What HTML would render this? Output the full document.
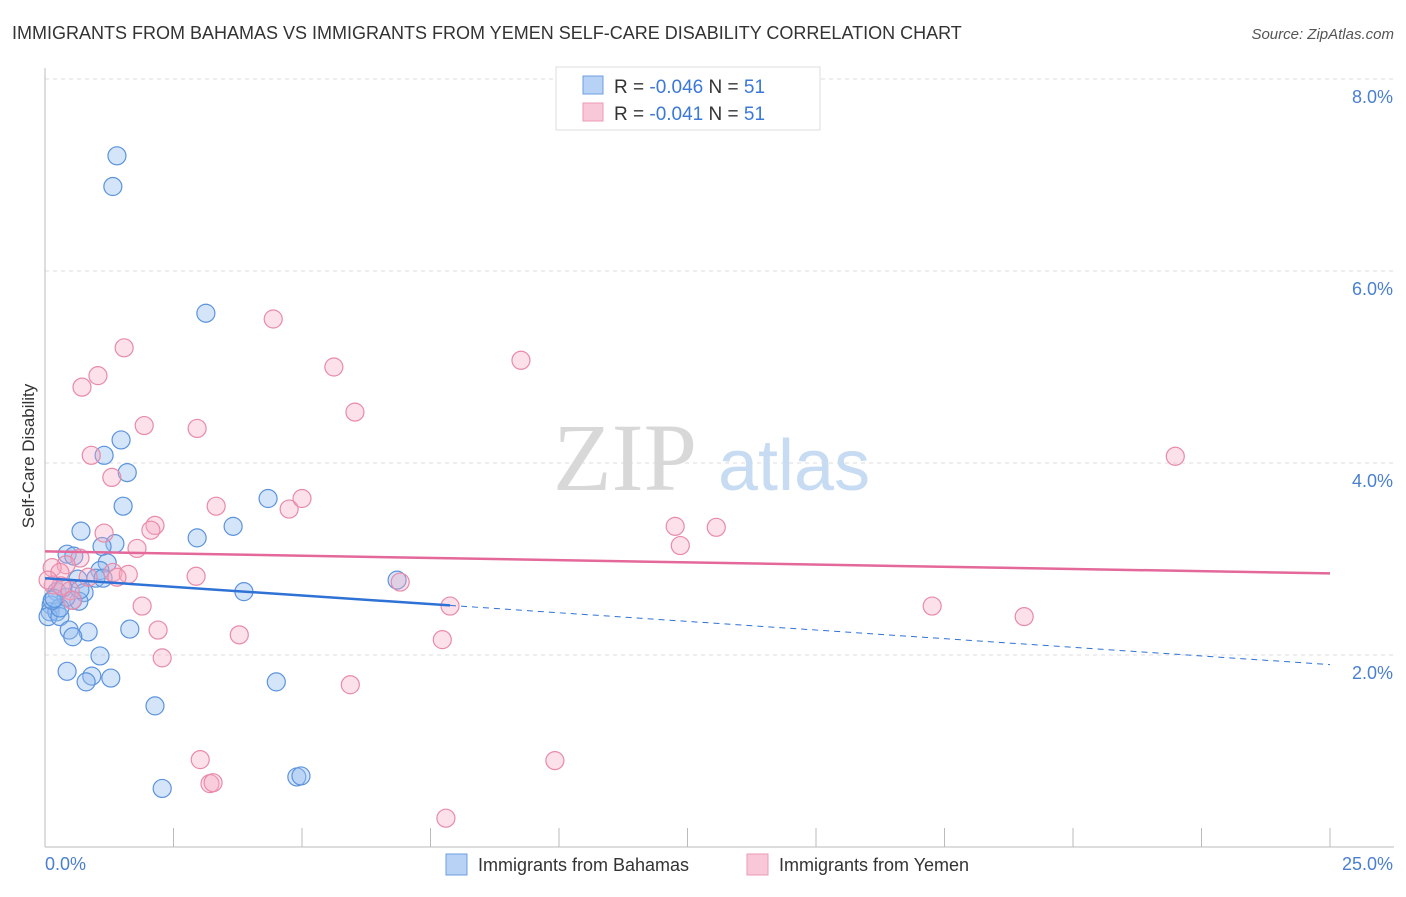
<!DOCTYPE html>
<html><head><meta charset="utf-8"><style>
body{margin:0;background:#fff;font-family:"Liberation Sans",sans-serif;}
</style></head><body>
<svg width="1406" height="892" viewBox="0 0 1406 892" xmlns="http://www.w3.org/2000/svg" font-family="Liberation Sans, sans-serif">
<text x="12" y="39" font-size="18" fill="#333">IMMIGRANTS FROM BAHAMAS VS IMMIGRANTS FROM YEMEN SELF-CARE DISABILITY CORRELATION CHART</text>
<text x="1394" y="39" font-size="15" fill="#555" text-anchor="end" font-style="italic">Source: ZipAtlas.com</text>
<g id="grid"></g>
<text x="553" y="490" font-size="96" fill="#d8d8d8" font-family="Liberation Serif, serif">ZIP</text>
<text x="718" y="490" font-size="72" fill="#c7dcf2">atlas</text>
<line x1="45" y1="847" x2="1394" y2="847" stroke="#bbb"/>
<line x1="45" y1="68" x2="45" y2="847" stroke="#bbb"/>
<g id="ticks"></g>
<g id="pts"></g>
<g id="trends"></g>
<text transform="translate(34,456) rotate(-90)" font-size="17" fill="#333" text-anchor="middle">Self-Care Disability</text>
<text x="45" y="870" font-size="18" fill="#4a7fd0">0.0%</text>
<text x="1393" y="870" font-size="18" fill="#4a7fd0" text-anchor="end">25.0%</text>
<g>
<rect x="556" y="67" width="264" height="63" fill="#fff" stroke="#ddd"/>
<rect x="583" y="76" width="20" height="18" fill="#b8d2f5" stroke="#6c9ee0"/>
<rect x="583" y="103" width="20" height="18" fill="#f9c8d8" stroke="#ec9ab5"/>
<text x="614" y="93" font-size="19" fill="#333">R = <tspan fill="#3b78d8">-0.046</tspan>   N = <tspan fill="#3b78d8">51</tspan></text>
<text x="614" y="120" font-size="19" fill="#333">R =  <tspan fill="#3b78d8">-0.041</tspan>   N = <tspan fill="#3b78d8">51</tspan></text>
</g>
<g>
<rect x="446" y="854" width="21" height="21" fill="#b8d2f5" stroke="#6c9ee0"/>
<text x="478" y="871" font-size="18" fill="#333">Immigrants from Bahamas</text>
<rect x="747" y="854" width="21" height="21" fill="#f9c8d8" stroke="#ec9ab5"/>
<text x="779" y="871" font-size="18" fill="#333">Immigrants from Yemen</text>
</g>
</svg>
<script>
const yTicks=[2,4,6,8];
const yTickLabels=["2.0%","4.0%","6.0%","8.0%"];
const xTicks=[0,2.5,5,7.5,10,12.5,15,17.5,20,22.5,25];
const bahamasX=[1.40,1.32,3.13,1.48,1.15,1.60,1.52,4.34,3.66,2.96,0.70,1.36,1.11,0.43,0.56,1.21,1.07,0.99,1.13,0.64,0.23,0.76,0.54,0.66,0.41,0.12,0.10,0.23,0.06,0.29,0.47,0.84,0.54,1.65,3.87,6.85,1.07,0.43,0.91,0.80,1.28,2.14,4.50,2.28,4.90,4.98,0.29,0.14,0.35,0.68,0.18];
const bahamasY=[7.20,6.88,5.56,4.24,4.08,3.90,3.55,3.63,3.34,3.22,3.29,3.16,3.13,3.05,3.03,2.96,2.88,2.80,2.80,2.79,2.66,2.65,2.57,2.56,2.60,2.52,2.45,2.45,2.40,2.40,2.26,2.24,2.19,2.27,2.66,2.78,1.99,1.83,1.78,1.72,1.76,1.47,1.72,0.61,0.73,0.74,2.49,2.57,2.70,2.68,2.59];
const yemenX=[4.44,1.54,1.03,0.72,5.62,9.26,6.03,1.93,2.96,21.99,0.90,1.30,3.33,4.75,5.00,2.14,2.06,1.15,1.79,12.26,13.06,12.36,0.68,0.41,0.14,0.29,1.32,1.62,2.94,1.40,0.84,6.91,0.16,0.31,0.49,0.53,1.89,7.88,17.26,2.20,3.78,19.05,7.73,2.28,5.94,3.02,9.92,3.21,3.27,7.80,0.06];
const yemenY=[5.50,5.20,4.91,4.79,5.00,5.07,4.53,4.39,4.36,4.07,4.08,3.85,3.55,3.52,3.63,3.35,3.30,3.27,3.11,3.34,3.33,3.14,3.01,2.94,2.91,2.86,2.86,2.84,2.82,2.81,2.81,2.76,2.73,2.72,2.67,2.57,2.51,2.51,2.51,2.26,2.21,2.40,2.16,1.97,1.69,0.91,0.90,0.66,0.67,0.30,2.78];
const bahamasTrend=[2.80,1.90];
const yemenTrend=[3.08,2.85];
const bahamasSolidEnd=7.88;
const NS="http://www.w3.org/2000/svg";
const sx=v=>45+v*1285/25;
const sy=v=>847-v*96;
function mk(t,a,p){const e=document.createElementNS(NS,t);for(const k in a)e.setAttribute(k,a[k]);p.appendChild(e);return e;}
const grid=document.getElementById('grid');
yTicks.forEach((t,i)=>{
 const l=mk('line',{x1:45,x2:1394,y1:sy(t),y2:sy(t),stroke:'#ddd','stroke-dasharray':'4,4'},grid);
 
 
 const tx=mk('text',{x:1393,y:sy(t)+24,'font-size':18,fill:'#4a7fd0','text-anchor':'end'},grid);
 tx.textContent=yTickLabels[i];
 
 
});
const ticks=document.getElementById('ticks');
xTicks.forEach(t=>{
 const l=mk('line',{x1:sx(t),x2:sx(t),y1:828,y2:847,stroke:'#bbb'},ticks);
 
 
});
const pts=document.getElementById('pts');
bahamasX.forEach((x,i)=>{
 const c=mk('circle',{cx:sx(x),cy:sy(bahamasY[i]),r:9,fill:'rgba(150,190,240,0.4)',stroke:'#5b93dd','stroke-width':1.2},pts);
 
 
});
yemenX.forEach((x,i)=>{
 const c=mk('circle',{cx:sx(x),cy:sy(yemenY[i]),r:9,fill:'rgba(245,170,195,0.35)',stroke:'#e98aaa','stroke-width':1.2},pts);
 
 
});
const tr=document.getElementById('trends');
const by=x=>bahamasTrend[0]+(bahamasTrend[1]-bahamasTrend[0])*x/25;
let l1=mk('line',{x1:sx(0),y1:sy(bahamasTrend[0]),x2:sx(bahamasSolidEnd),y2:sy(by(bahamasSolidEnd)),stroke:'#2f72d6','stroke-width':2.5},tr);


let l2=mk('line',{x1:sx(bahamasSolidEnd),y1:sy(by(bahamasSolidEnd)),x2:sx(25),y2:sy(bahamasTrend[1]),stroke:'#2f72d6','stroke-width':1,'stroke-dasharray':'6,5'},tr);


let l3=mk('line',{x1:sx(0),y1:sy(yemenTrend[0]),x2:sx(25),y2:sy(yemenTrend[1]),stroke:'#e4689a','stroke-width':2.5},tr);


</script>
</body></html>
